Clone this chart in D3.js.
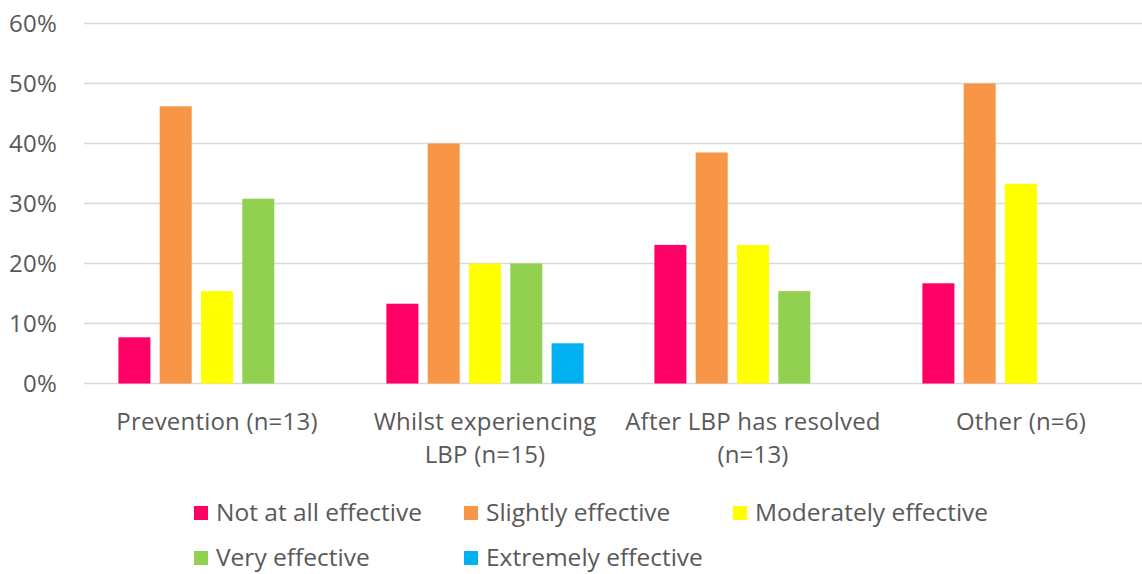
<!DOCTYPE html>
<html>
<head>
<meta charset="utf-8">
<script src="https://cdn.jsdelivr.net/npm/d3@7"></script>
<style>
  html, body { margin: 0; padding: 0; background: #fff; }
  svg { display: block; font-family: "Open Sans", sans-serif; }
</style>
</head>
<body>
<svg id="chart" width="1142" height="574"></svg>
<script>
// Survey responses: share of respondents per effectiveness rating, by timing of use
const categories = [
  ["Prevention (n=13)"],
  ["Whilst experiencing", "LBP (n=15)"],
  ["After LBP has resolved", "(n=13)"],
  ["Other (n=6)"]
];
const seriesNames = [
  "Not at all effective",
  "Slightly effective",
  "Moderately effective",
  "Very effective",
  "Extremely effective"
];
const seriesColors = ["#FF0066", "#F79646", "#FFFF00", "#92D050", "#00B0F0"];
// values in percent, one array per series, in category order
const notAtAll   = [7.7, 13.3, 23.1, 16.7];
const slightly   = [46.2, 40.0, 38.5, 50.0];
const moderately = [15.4, 20.0, 23.1, 33.3];
const very       = [30.8, 20.0, 15.4, 0];
const extremely  = [0, 6.7, 0, 0];
const yTicks = [0, 10, 20, 30, 40, 50, 60];

const seriesValues = [notAtAll, slightly, moderately, very, extremely];

const svg = d3.select("#chart");
const textColor = "#595959";
const axisFont = 24;
const legendFont = 24.5;

const x0 = d3.scaleBand()
  .domain(d3.range(categories.length))
  .range([83, 1155])
  .padding(0);

const x1 = d3.scaleBand()
  .domain(d3.range(seriesNames.length))
  .range([0, x0.bandwidth()])
  .paddingInner(0.225)
  .paddingOuter(0.857);

const y = d3.scaleLinear().domain([0, 60]).range([383.5, 23.5]);

// gridlines
svg.append("g").selectAll("line")
  .data(yTicks)
  .join("line")
  .attr("x1", 84)
  .attr("x2", 1142)
  .attr("y1", d => y(d))
  .attr("y2", d => y(d))
  .attr("stroke", "#D9D9D9")
  .attr("stroke-width", 1.5);

// y axis labels
const yAxis = d3.axisLeft(y).tickValues(yTicks).tickFormat(d => d + "%").tickSize(0).tickPadding(0);
const yG = svg.append("g").attr("transform", "translate(57,0)").call(yAxis);
yG.select(".domain").remove();
yG.selectAll("text")
  .attr("fill", textColor)
  .style("font-size", axisFont + "px")
  .style("letter-spacing", "0.2px")
  .style("font-family", "'Open Sans', sans-serif");

// bars
const groups = svg.append("g").selectAll("g")
  .data(categories.map((c, i) => i))
  .join("g")
  .attr("transform", i => `translate(${x0(i)},0)`);

groups.selectAll("rect")
  .data(i => seriesValues.map((vals, s) => ({ s, v: vals[i] })).filter(d => d.v > 0))
  .join("rect")
  .attr("x", d => x1(d.s))
  .attr("width", x1.bandwidth())
  .attr("y", d => y(d.v))
  .attr("height", d => y(0) - y(d.v))
  .attr("fill", d => seriesColors[d.s]);

// category labels
const catG = svg.append("g");
categories.forEach((lines, i) => {
  const cx = x0(i) + x0.bandwidth() / 2;
  const t = catG.append("text")
    .attr("x", cx)
    .attr("y", 430)
    .attr("text-anchor", "middle")
    .attr("fill", textColor)
    .style("font-size", axisFont + "px")
    .style("letter-spacing", "0.2px");
  lines.forEach((ln, k) => {
    t.append("tspan")
      .attr("x", cx)
      .attr("dy", k === 0 ? 0 : 33)
      .text(ln);
  });
});

// legend
const legendPos = [
  [194, 521], [464, 521], [733, 521],
  [194, 566], [464, 566]
];
const leg = svg.append("g");
seriesNames.forEach((name, s) => {
  const [lx, ly] = legendPos[s];
  leg.append("rect")
    .attr("x", lx)
    .attr("y", ly - 15)
    .attr("width", 14)
    .attr("height", 14)
    .attr("fill", seriesColors[s]);
  leg.append("text")
    .attr("x", lx + 22)
    .attr("y", ly)
    .attr("fill", textColor)
    .style("font-size", legendFont + "px")
    .text(name);
});
</script>
</body>
</html>
